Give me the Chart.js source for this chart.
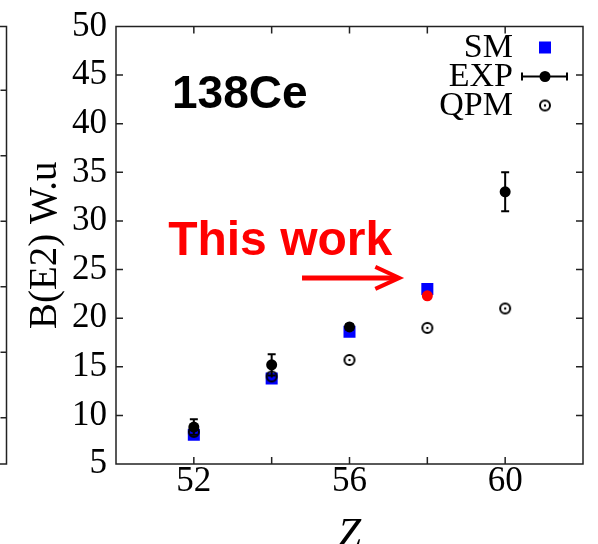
<!DOCTYPE html>
<html>
<head>
<meta charset="utf-8">
<script src="https://cdn.jsdelivr.net/npm/chart.js@4/dist/chart.umd.min.js"></script>
<style>
html,body{margin:0;padding:0;background:#fff;overflow:hidden;}
canvas{display:block;}
</style>
</head>
<body>
<canvas id="c" width="598" height="544"></canvas>
<script>
// ---- data ----
const smZ = [52, 54, 56, 58];
const smVals = [8.0, 13.8, 18.6, 23.0];

const expZ = [52, 54, 56, 60];
const expVals = [8.8, 15.2, 19.1, 33.0];
const expErr = [0.8, 1.1, 0.3, 2.0];

const qpmZ = [52, 54, 56, 58, 60];
const qpmVals = [8.3, 14.0, 15.7, 19.0, 21.0];

const workZ = [58];
const workVals = [22.3];

const xTickLabels = [52, 56, 60];
const legendLabels = ['SM', 'EXP', 'QPM'];
const nucleusLabel = '138Ce';
const workLabel = 'This work';

// ---- styles ----
const SERIF = "'Liberation Serif', 'DejaVu Serif', serif";
const SANS = "'Liberation Sans', Arial, sans-serif";

function pts(xs, ys) { return xs.map((x, i) => ({x: x, y: ys[i]})); }

// QPM marker: open circle with centre dot
const qpmMarker = (() => {
  const c = document.createElement('canvas');
  c.width = 16; c.height = 16;
  const g = c.getContext('2d');
  g.strokeStyle = '#000'; g.lineWidth = 2;
  g.beginPath(); g.arc(8, 8, 5, 0, Math.PI * 2); g.stroke();
  g.fillStyle = '#000';
  g.beginPath(); g.arc(8, 8, 1.2, 0, Math.PI * 2); g.fill();
  return c;
})();

const frameTicks = {
  id: 'frameTicks',
  afterDatasetsDraw(chart) {
    const {ctx, chartArea: a, scales} = chart;
    ctx.save();
    ctx.strokeStyle = '#222';
    ctx.lineWidth = 1.5;
    ctx.strokeRect(a.left, a.top, a.right - a.left, a.bottom - a.top);
    const tl = 7;
    ctx.beginPath();
    scales.x.ticks.forEach(t => {
      const px = scales.x.getPixelForValue(t.value);
      if (px <= a.left + 1 || px >= a.right - 1) return;
      ctx.moveTo(px, a.bottom); ctx.lineTo(px, a.bottom - tl);
      ctx.moveTo(px, a.top); ctx.lineTo(px, a.top + tl);
    });
    scales.y.ticks.forEach(t => {
      const py = scales.y.getPixelForValue(t.value);
      if (py <= a.top + 1 || py >= a.bottom - 1) return;
      ctx.moveTo(a.left, py); ctx.lineTo(a.left + tl, py);
      ctx.moveTo(a.right, py); ctx.lineTo(a.right - tl, py);
    });
    ctx.stroke();

    // fragment of the neighbouring panel on the far left
    const h = a.bottom - a.top;
    const fx = 6.5;
    ctx.beginPath();
    ctx.moveTo(0, a.top); ctx.lineTo(fx, a.top);
    ctx.lineTo(fx, a.bottom); ctx.lineTo(0, a.bottom);
    for (let f = 0.106; f < 0.95; f += 0.1497) {
      const py = a.bottom - f * h;
      ctx.moveTo(fx, py); ctx.lineTo(fx - 6, py);
    }
    ctx.stroke();
    ctx.restore();
  }
};

const errorBars = {
  id: 'errorBars',
  afterDatasetsDraw(chart) {
    const {ctx, scales} = chart;
    ctx.save();
    ctx.strokeStyle = '#000';
    ctx.lineWidth = 2;
    ctx.beginPath();
    expZ.forEach((z, i) => {
      const px = scales.x.getPixelForValue(z);
      const y1 = scales.y.getPixelForValue(expVals[i] + expErr[i]);
      const y2 = scales.y.getPixelForValue(expVals[i] - expErr[i]);
      ctx.moveTo(px, y1); ctx.lineTo(px, y2);
      ctx.moveTo(px - 4, y1); ctx.lineTo(px + 4, y1);
      ctx.moveTo(px - 4, y2); ctx.lineTo(px + 4, y2);
    });
    ctx.stroke();
    ctx.restore();
  }
};

const annotations = {
  id: 'annotations',
  afterDraw(chart) {
    const {ctx, scales, chartArea: a} = chart;
    const X = v => scales.x.getPixelForValue(v);
    const Y = v => scales.y.getPixelForValue(v);
    ctx.save();
    // nucleus label
    ctx.font = 'bold 46px ' + SANS;
    ctx.fillStyle = '#000';
    ctx.textAlign = 'left';
    ctx.textBaseline = 'alphabetic';
    ctx.fillText(nucleusLabel, X(51.44), Y(41.6));
    // "This work"
    ctx.font = 'bold 48px ' + SANS;
    ctx.fillStyle = '#ff0000';
    ctx.fillText(workLabel, X(51.34), Y(26.5));
    // arrow
    const ax1 = X(54.78), ax2 = X(57.28), ay = Y(24.14);
    ctx.strokeStyle = '#ff0000';
    ctx.lineWidth = 5;
    ctx.beginPath();
    ctx.moveTo(ax1, ay); ctx.lineTo(ax2 - 3, ay);
    ctx.stroke();
    ctx.lineWidth = 4;
    ctx.beginPath();
    ctx.moveTo(ax2 - 24, ay - 11); ctx.lineTo(ax2, ay); ctx.lineTo(ax2 - 24, ay + 11);
    ctx.stroke();

    // legend (inside the frame, top right)
    const tx = a.right - 70, sx = a.right - 38;
    const rows = [a.top + 21, a.top + 50, a.top + 79];
    ctx.font = '34px ' + SERIF;
    ctx.fillStyle = '#000';
    ctx.textAlign = 'right';
    ctx.textBaseline = 'middle';
    legendLabels.forEach((t, i) => ctx.fillText(t, tx, rows[i] + 1));
    const ds = chart.data.datasets;
    // SM
    ctx.fillStyle = ds[0].backgroundColor;
    ctx.fillRect(sx - 6, rows[0] - 6, 12, 12);
    // EXP
    ctx.strokeStyle = '#000'; ctx.lineWidth = 2;
    ctx.beginPath();
    ctx.moveTo(sx - 23, rows[1]); ctx.lineTo(sx + 22, rows[1]);
    ctx.moveTo(sx - 23, rows[1] - 4); ctx.lineTo(sx - 23, rows[1] + 4);
    ctx.moveTo(sx + 22, rows[1] - 4); ctx.lineTo(sx + 22, rows[1] + 4);
    ctx.stroke();
    ctx.fillStyle = '#000';
    ctx.beginPath(); ctx.arc(sx, rows[1], 5.5, 0, Math.PI * 2); ctx.fill();
    // QPM
    ctx.drawImage(qpmMarker, sx - 8, rows[2] - 8);
    ctx.restore();
  }
};

new Chart(document.getElementById('c'), {
  type: 'scatter',
  data: {
    datasets: [
      {label: 'SM', data: pts(smZ, smVals), pointStyle: 'rect', pointRadius: 8.5,
       backgroundColor: '#0000ff', borderColor: '#0000ff', borderWidth: 0, order: 4},
      {label: 'QPM', data: pts(qpmZ, qpmVals), pointStyle: qpmMarker, pointRadius: 8,
       backgroundColor: '#000', borderColor: '#000', order: 3},
      {label: 'This work', data: pts(workZ, workVals), pointStyle: 'circle', pointRadius: 5.5,
       backgroundColor: '#ff0000', borderColor: '#ff0000', borderWidth: 0, order: 2},
      {label: 'EXP', data: pts(expZ, expVals), pointStyle: 'circle', pointRadius: 5.5,
       backgroundColor: '#000', borderColor: '#000', borderWidth: 0, order: 1}
    ]
  },
  options: {
    responsive: false,
    animation: false,
    devicePixelRatio: 1,
    events: [],
    layout: {padding: {top: 22, right: 15, left: 0, bottom: 0}},
    plugins: {legend: {display: false}, tooltip: {enabled: false}},
    scales: {
      x: {
        type: 'linear', min: 50, max: 62,
        grid: {display: false, drawTicks: false},
        border: {display: false},
        ticks: {
          stepSize: 2, autoSkip: false, maxRotation: 0, padding: 0,
          color: '#000',
          font: {family: SERIF, size: 35, lineHeight: 1},
          callback: v => xTickLabels.includes(v) ? String(v) : ''
        },
        title: {display: true, text: 'Z', color: '#000',
          font: {family: SERIF, size: 42, style: 'italic', lineHeight: 1},
          padding: {top: 0, bottom: -13}},
        afterFit: s => { s.height = 80; }
      },
      y: {
        type: 'linear', min: 5, max: 50,
        grid: {display: false, drawTicks: false},
        border: {display: false},
        ticks: {
          stepSize: 5, autoSkip: false, padding: 9,
          color: '#000',
          font: {family: SERIF, size: 35, lineHeight: 1}
        },
        title: {display: true, text: 'B(E2) W.u', color: '#000',
          font: {family: SERIF, size: 39, lineHeight: 1},
          padding: {top: 26.5, bottom: 0}},
        afterFit: s => { s.width = 116; }
      }
    }
  },
  plugins: [errorBars, frameTicks, annotations]
});
</script>
</body>
</html>
